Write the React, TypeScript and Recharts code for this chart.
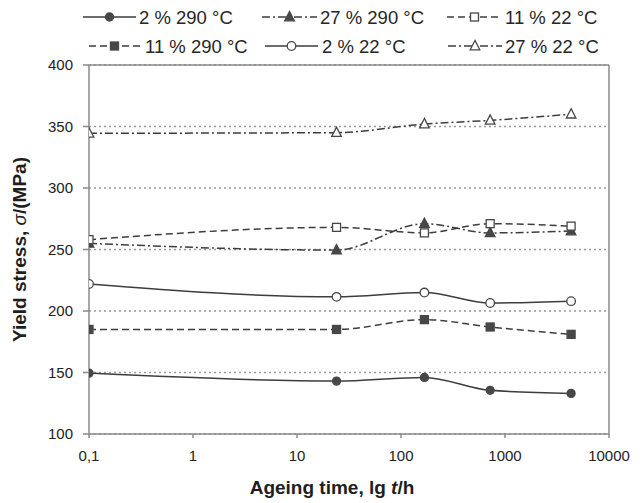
import React from 'react';
import { LineChart, Line, XAxis, YAxis, CartesianGrid, ReferenceLine, Legend } from 'recharts';

// Ageing time in hours (log axis)
const ageingTimes = [0.1, 24, 168, 720, 4320];

// Yield stress values (MPa)
const ys2pc290 = [149.5, 143, 146, 135.5, 133];
const ys27pc290 = [255, 249.5, 271, 263.5, 265];
const ys11pc22 = [258, 268, 263.5, 271, 269];
const ys11pc290 = [185, 185, 193, 187, 181];
const ys2pc22 = [222, 211.5, 215, 206.5, 208];
const ys27pc22 = [344.5, 345, 352, 355, 360];

const xTicks = [0.1, 1, 10, 100, 1000, 10000];
const xTickLabels = ['0,1', '1', '10', '100', '1000', '10000'];
const yTicks = [100, 150, 200, 250, 300, 350, 400];

type Shape = 'circle' | 'square' | 'triangle';

interface SeriesDef {
  key: string;
  name: string;
  values: number[];
  dash?: string;
  shape: Shape;
  filled: boolean;
}

const series: SeriesDef[] = [
  { key: 's2_290', name: '2 % 290 °C', values: ys2pc290, shape: 'circle', filled: true },
  { key: 's27_290', name: '27 % 290 °C', values: ys27pc290, dash: '8 3 2 3', shape: 'triangle', filled: true },
  { key: 's11_22', name: '11 % 22 °C', values: ys11pc22, dash: '7 4', shape: 'square', filled: false },
  { key: 's11_290', name: '11 % 290 °C', values: ys11pc290, dash: '7 4', shape: 'square', filled: true },
  { key: 's2_22', name: '2 % 22 °C', values: ys2pc22, shape: 'circle', filled: false },
  { key: 's27_22', name: '27 % 22 °C', values: ys27pc22, dash: '8 3 2 3', shape: 'triangle', filled: false },
];

const data = ageingTimes.map((t, i) => {
  const row: Record<string, number> = { t };
  series.forEach((s) => {
    row[s.key] = s.values[i];
  });
  return row;
});

const LINE = '#3d3d3d';
const MARK = '#474747';
const AXIS = '#8a8a8a';
const FONT = '"Liberation Sans", Arial, sans-serif';

function Marker({ cx, cy, shape, filled }: { cx: number; cy: number; shape: Shape; filled: boolean }) {
  const fill = filled ? MARK : '#ffffff';
  if (cx == null || cy == null) return null;
  if (shape === 'circle') {
    return <circle cx={cx} cy={cy} r={filled ? 4 : 4.3} fill={fill} stroke={MARK} strokeWidth={1.3} />;
  }
  if (shape === 'square') {
    return <rect x={cx - 4} y={cy - 4} width={8} height={8} fill={fill} stroke={MARK} strokeWidth={1.3} />;
  }
  return (
    <polygon
      points={`${cx},${cy - 5.5} ${cx - 4.8},${cy + 3.8} ${cx + 4.8},${cy + 3.8}`}
      fill={fill}
      stroke={MARK}
      strokeWidth={1.3}
    />
  );
}

// legend layout: [sampleStart, sampleEnd, textX, rowY]
const legendPos: Record<string, [number, number, number, number]> = {
  s2_290: [83, 136, 139, 17],
  s27_290: [262, 317, 320, 17],
  s11_22: [447, 502, 505, 17],
  s11_290: [89, 140, 145, 46],
  s2_22: [265, 318, 322, 46],
  s27_22: [448, 502, 505, 46],
};

function renderLegend() {
  return (
    <svg width={640} height={62} style={{ display: 'block' }}>
      {series.map((s) => {
        const [x1, x2, tx, y] = legendPos[s.key];
        return (
          <g key={s.key}>
            <line x1={x1} x2={x2} y1={y} y2={y} stroke={LINE} strokeWidth={1.5} strokeDasharray={s.dash} />
            <Marker cx={(x1 + x2) / 2} cy={y} shape={s.shape} filled={s.filled} />
            <text x={tx} y={y + 6.5} fontSize={18.5} fill="#262626" fontFamily={FONT}>
              {s.name}
            </text>
          </g>
        );
      })}
    </svg>
  );
}

function XTitle(props: any) {
  const vb = props.viewBox || { x: 89, y: 434, width: 520, height: 69 };
  const cx = vb.x + vb.width / 2 - 17;
  return (
    <text x={cx} y={494} textAnchor="middle" fontSize={19} fontWeight="bold" fill="#1e1e1e" fontFamily={FONT}>
      Ageing time, lg <tspan fontStyle="italic">t</tspan>/h
    </text>
  );
}

function YTitle(props: any) {
  const vb = props.viewBox || { x: 0, y: 65, width: 89, height: 369 };
  const cy = vb.y + vb.height / 2;
  const x = 26;
  return (
    <text
      x={x}
      y={cy}
      transform={`rotate(-90, ${x}, ${cy})`}
      textAnchor="middle"
      fontSize={19}
      fontWeight="bold"
      fill="#1e1e1e"
      fontFamily={FONT}
    >
      Yield stress, <tspan fontStyle="italic" fontWeight="normal">σ</tspan>/(MPa)
    </text>
  );
}

export default function App() {
  return (
    <div style={{ position: 'absolute', left: 0, top: 0, width: 640, height: 503, background: '#fff' }}>
      <LineChart
        width={640}
        height={503}
        data={data}
        margin={{ top: 65, right: 31, bottom: 0, left: 0 }}
        style={{ fontFamily: FONT }}
      >
        <CartesianGrid vertical={false} stroke="#9a9a9a" strokeDasharray="2 3" strokeWidth={1.3} />
        <XAxis
          dataKey="t"
          type="number"
          scale="log"
          domain={[0.1, 10000]}
          ticks={xTicks}
          allowDataOverflow
          interval={0}
          height={69}
          tickSize={4}
          tickMargin={12}
          tickFormatter={(v: number) => xTickLabels[xTicks.indexOf(v)] ?? String(v)}
          tick={{ fontSize: 15, fill: '#222' }}
          axisLine={{ stroke: AXIS, strokeWidth: 1.5 }}
          tickLine={{ stroke: AXIS, strokeWidth: 1.5 }}
          label={<XTitle />}
        />
        <YAxis
          type="number"
          domain={[100, 400]}
          ticks={yTicks}
          interval={0}
          width={89}
          tickSize={6}
          tickMargin={10}
          tick={{ fontSize: 15, fill: '#222' }}
          axisLine={{ stroke: AXIS, strokeWidth: 1.5 }}
          tickLine={{ stroke: AXIS, strokeWidth: 1.5 }}
          label={<YTitle />}
        />
        <ReferenceLine y={400} stroke={AXIS} strokeWidth={1.5} />
        <ReferenceLine x={10000} stroke={AXIS} strokeWidth={1.5} />
        <Legend
          content={renderLegend}
          layout="horizontal"
          verticalAlign="middle"
          align="center"
          wrapperStyle={{ position: 'absolute', top: 0, left: 0, width: 640, height: 62 }}
        />
        {series.map((s) => (
          <Line
            key={s.key}
            dataKey={s.key}
            name={s.name}
            type="monotone"
            stroke={LINE}
            strokeWidth={1.5}
            strokeDasharray={s.dash}
            isAnimationActive={false}
            dot={(p: any) => (
              <Marker key={`${s.key}-${p.index}`} cx={p.cx} cy={p.cy} shape={s.shape} filled={s.filled} />
            )}
            activeDot={false}
          />
        ))}
      </LineChart>
    </div>
  );
}
